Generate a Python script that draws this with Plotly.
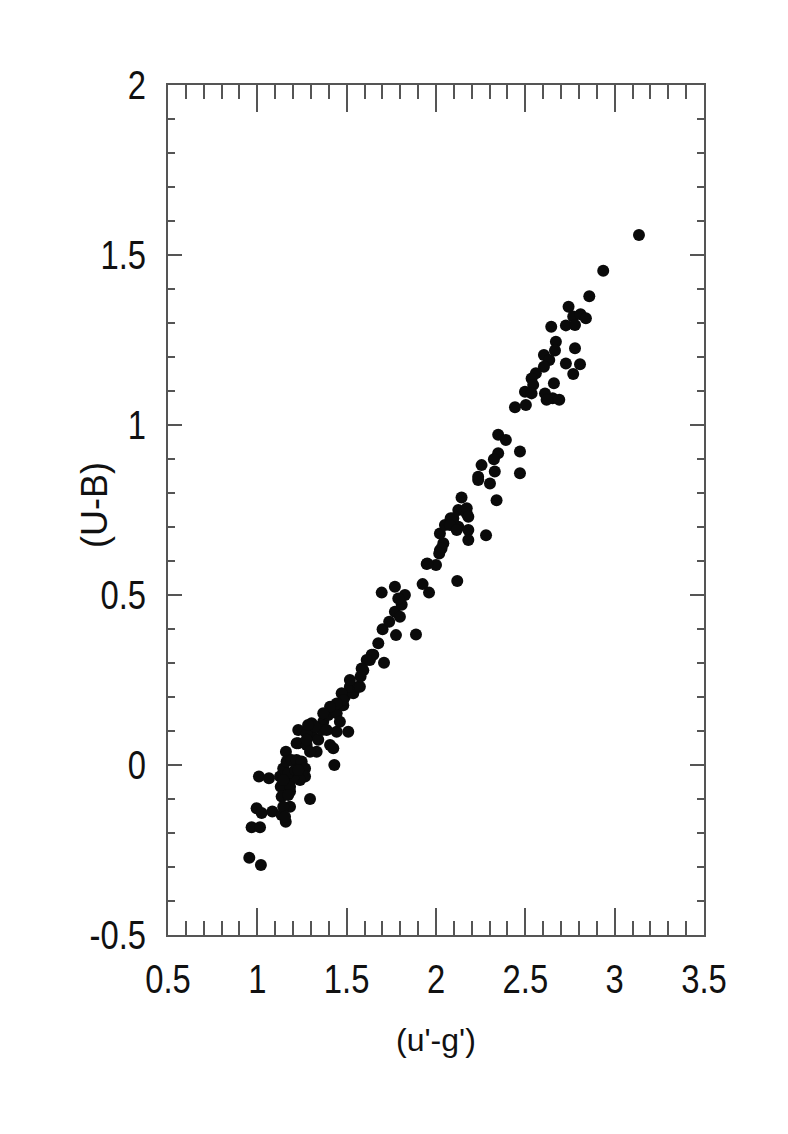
import plotly.graph_objects as go

# (u'-g') vs (U-B)
ug = [0.955, 1.02, 0.968, 1.015, 0.996, 1.024, 1.009, 1.065, 1.084, 1.159, 1.136, 1.183, 1.183,
      1.295, 1.160, 1.229, 1.229, 1.407, 1.431, 1.509, 1.444,
      1.127, 1.131, 1.136, 1.145, 1.155, 1.145, 1.164, 1.192, 1.22, 1.248, 1.267, 1.267, 1.239,
      1.201, 1.173, 1.211, 1.183, 1.173, 1.229, 1.145,
      1.22, 1.276, 1.304, 1.304, 1.341, 1.332, 1.295, 1.369, 1.36, 1.397, 1.416, 1.444, 1.388,
      1.462, 1.425, 1.481, 1.49, 1.537, 1.518, 1.565, 1.276, 1.323, 1.284, 1.276,
      1.472, 1.518, 1.574, 1.593, 1.63, 1.649, 1.709, 1.677, 1.701, 1.738, 1.776, 1.77, 1.798,
      1.808, 1.826, 1.789, 1.77, 1.696, 1.888, 1.925, 1.961, 1.948, 2.0, 2.119, 2.022, 2.041,
      2.022, 2.05, 2.082, 2.125, 2.143, 2.125, 2.172, 2.181, 2.181, 2.28, 2.339, 2.302, 2.236,
      1.64, 1.612, 1.584, 1.578, 1.481, 1.444, 1.407, 1.369,
      2.172, 2.181, 2.097, 2.078, 2.116, 2.031, 2.018, 1.951,
      2.442, 2.348, 2.391, 2.348, 2.324, 2.255, 2.236, 2.329, 2.47, 2.47,
      3.136, 2.936, 2.858, 2.742, 2.768, 2.809, 2.839, 2.645, 2.727, 2.778, 2.671, 2.666, 2.778,
      2.604, 2.634, 2.604, 2.727, 2.806, 2.768, 2.559, 2.535, 2.544, 2.498, 2.535, 2.61, 2.66,
      2.653, 2.69, 2.619, 2.503]
ub = [-0.273, -0.294, -0.183, -0.183, -0.127, -0.141, -0.034, -0.039, -0.137, -0.167, -0.147, -0.123, -0.078,
      -0.10, 0.039, 0.103, 0.064, 0.059, 0.0, 0.098, 0.098,
      -0.034, -0.064, -0.093, -0.123, -0.152, -0.01, 0.01, 0.015, 0.015, 0.01, -0.01, -0.034, -0.044,
      -0.039, -0.024, -0.015, -0.064, -0.088, -0.015, -0.044,
      0.064, 0.059, 0.123, 0.088, 0.074, 0.039, 0.039, 0.127, 0.103, 0.147, 0.171, 0.152, 0.103,
      0.127, 0.049, 0.176, 0.201, 0.211, 0.23, 0.23, 0.093, 0.113, 0.118, 0.074,
      0.211, 0.25, 0.23, 0.279, 0.309, 0.324, 0.301, 0.358, 0.399, 0.421, 0.382, 0.451, 0.436,
      0.471, 0.5, 0.49, 0.524, 0.507, 0.384, 0.532, 0.507, 0.591, 0.588, 0.541, 0.632, 0.652,
      0.681, 0.706, 0.726, 0.75, 0.787, 0.701, 0.74, 0.691, 0.662, 0.676, 0.779, 0.828, 0.838,
      0.324, 0.309, 0.284, 0.26, 0.191, 0.181, 0.171, 0.152,
      0.755, 0.73, 0.726, 0.706, 0.691, 0.637, 0.622, 0.593,
      1.052, 0.971, 0.956, 0.917, 0.899, 0.882, 0.848, 0.863, 0.922, 0.858,
      1.559, 1.454, 1.379, 1.348, 1.319, 1.326, 1.314, 1.289, 1.293, 1.294, 1.245, 1.219, 1.226,
      1.206, 1.191, 1.171, 1.181, 1.179, 1.15, 1.152, 1.137, 1.118, 1.098, 1.093, 1.093, 1.123,
      1.079, 1.074, 1.074, 1.059]

x_ticks = [0.5, 1, 1.5, 2, 2.5, 3, 3.5]
y_ticks = [-0.5, 0, 0.5, 1, 1.5, 2]

axis_col = "#555555"
tick_font = dict(family="Liberation Sans, Arial", size=40, color="#111111")

fig = go.Figure()
fig.add_trace(go.Scatter(x=ug, y=ub, mode="markers",
                         marker=dict(size=12, color="#0a0a0a", line=dict(width=0))))

fig.update_xaxes(range=[0.5, 3.5], tickvals=x_ticks, ticktext=[str(v) for v in x_ticks],
                 ticks="inside", ticklen=27, tickwidth=1.5, tickcolor=axis_col,
                 minor=dict(dtick=0.1, ticks="inside", ticklen=14, tickwidth=1.5, tickcolor=axis_col),
                 showline=True, linecolor=axis_col, linewidth=2, mirror="allticks",
                 showgrid=False, zeroline=False, tickfont=tick_font, ticklabelstandoff=8)
fig.update_yaxes(range=[-0.5, 2], tickvals=y_ticks, ticktext=[str(v) for v in y_ticks],
                 ticks="inside", ticklen=14, tickwidth=1.5, tickcolor=axis_col,
                 minor=dict(dtick=0.1, ticks="inside", ticklen=7, tickwidth=1.5, tickcolor=axis_col),
                 showline=True, linecolor=axis_col, linewidth=2, mirror="allticks",
                 showgrid=False, zeroline=False, tickfont=tick_font, ticklabelstandoff=12)

fig.add_annotation(text="(u'-g')", xref="paper", yref="paper", x=0.5, y=-0.124,
                   xanchor="center", yanchor="middle", showarrow=False,
                   font=dict(family="Liberation Sans, Arial", size=32, color="#111111"))
fig.add_annotation(text="(U-B)", xref="paper", yref="paper", x=-0.136, y=0.506,
                   xanchor="center", yanchor="middle", textangle=-90, showarrow=False,
                   font=dict(family="Liberation Sans, Arial", size=36, color="#111111"))

# page body has an 8px default margin, so shift the plot area back by 8px
fig.update_layout(width=788, height=1134, margin=dict(l=160, r=92, t=77, b=207),
                  plot_bgcolor="white", paper_bgcolor="white", showlegend=False)

# tick numbers in the original are a narrow face; squeeze the glyphs horizontally
squeeze_js = """
var gd = document.getElementById('{plot_id}');
function squeeze() {
  gd.querySelectorAll('.xtick text, .ytick text').forEach(function (t) {
    if (t.getAttribute('textLength')) return;
    var w = t.getComputedTextLength();
    if (w > 0) {
      t.setAttribute('textLength', (w * 0.82).toFixed(1));
      t.setAttribute('lengthAdjust', 'spacingAndGlyphs');
    }
  });
}
squeeze();
gd.on('plotly_afterplot', squeeze);
"""

fig.write_html("out.html", post_script=squeeze_js)
